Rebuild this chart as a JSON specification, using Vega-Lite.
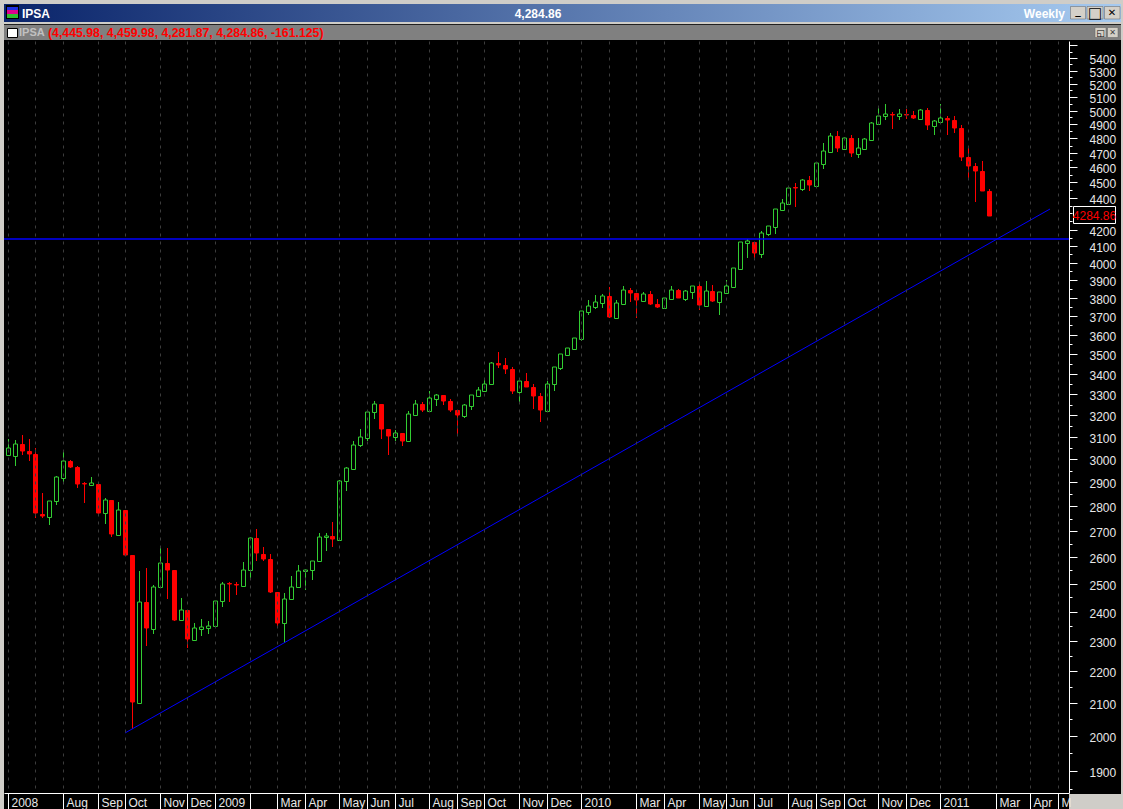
{"$schema":"https://vega.github.io/schema/vega-lite/v6.json","width":1065,"height":752,"autosize":{"type":"none"},"padding":{"left":4,"top":41,"right":54,"bottom":16},"background":"#cfcdc8","config":{"view":{"fill":"#000000","stroke":null}},
"datasets":{"candles":[
{"date":"2008-06-06","open":3019,"high":3091,"low":3012,"close":3050,"dir":"up"},
{"date":"2008-06-13","open":3016,"high":3086,"low":2972,"close":3067,"dir":"up"},
{"date":"2008-06-20","open":3068,"high":3109,"low":3019,"close":3035,"dir":"down"},
{"date":"2008-06-27","open":3037,"high":3091,"low":2993,"close":3023,"dir":"down"},
{"date":"2008-07-04","open":3024,"high":3049,"low":2752,"close":2771,"dir":"down"},
{"date":"2008-07-11","open":2770,"high":2855,"low":2754,"close":2761,"dir":"down"},
{"date":"2008-07-18","open":2758,"high":2821,"low":2725,"close":2821,"dir":"up"},
{"date":"2008-07-25","open":2820,"high":2928,"low":2806,"close":2923,"dir":"up"},
{"date":"2008-08-01","open":2920,"high":3031,"low":2893,"close":2991,"dir":"up"},
{"date":"2008-08-08","open":2991,"high":2997,"low":2962,"close":2967,"dir":"down"},
{"date":"2008-08-15","open":2967,"high":2971,"low":2877,"close":2893,"dir":"down"},
{"date":"2008-08-22","open":2899,"high":2903,"low":2814,"close":2895,"dir":"down"},
{"date":"2008-08-29","open":2889,"high":2923,"low":2885,"close":2897,"dir":"up"},
{"date":"2008-09-05","open":2893,"high":2893,"low":2761,"close":2772,"dir":"down"},
{"date":"2008-09-12","open":2771,"high":2834,"low":2729,"close":2825,"dir":"up"},
{"date":"2008-09-19","open":2827,"high":2827,"low":2678,"close":2689,"dir":"down"},
{"date":"2008-09-26","open":2686,"high":2818,"low":2686,"close":2784,"dir":"up"},
{"date":"2008-10-03","open":2785,"high":2785,"low":2606,"close":2608,"dir":"down"},
{"date":"2008-10-10","open":2606,"high":2606,"low":2021,"close":2102,"dir":"down"},
{"date":"2008-10-17","open":2100,"high":2548,"low":2100,"close":2433,"dir":"up"},
{"date":"2008-10-24","open":2434,"high":2559,"low":2282,"close":2343,"dir":"down"},
{"date":"2008-10-31","open":2340,"high":2496,"low":2323,"close":2487,"dir":"up"},
{"date":"2008-11-07","open":2486,"high":2643,"low":2486,"close":2576,"dir":"up"},
{"date":"2008-11-14","open":2576,"high":2635,"low":2445,"close":2551,"dir":"down"},
{"date":"2008-11-21","open":2551,"high":2551,"low":2367,"close":2371,"dir":"down"},
{"date":"2008-11-28","open":2369,"high":2448,"low":2369,"close":2405,"dir":"up"},
{"date":"2008-12-05","open":2406,"high":2406,"low":2275,"close":2305,"dir":"down"},
{"date":"2008-12-12","open":2303,"high":2360,"low":2299,"close":2342,"dir":"up"},
{"date":"2008-12-19","open":2340,"high":2374,"low":2316,"close":2347,"dir":"up"},
{"date":"2008-12-26","open":2343,"high":2367,"low":2323,"close":2350,"dir":"up"},
{"date":"2009-01-02","open":2348,"high":2438,"low":2347,"close":2437,"dir":"up"},
{"date":"2009-01-09","open":2436,"high":2507,"low":2417,"close":2498,"dir":"up"},
{"date":"2009-01-16","open":2504,"high":2507,"low":2434,"close":2500,"dir":"down"},
{"date":"2009-01-23","open":2500,"high":2507,"low":2460,"close":2496,"dir":"down"},
{"date":"2009-01-30","open":2493,"high":2581,"low":2493,"close":2550,"dir":"up"},
{"date":"2009-02-06","open":2549,"high":2676,"low":2520,"close":2672,"dir":"up"},
{"date":"2009-02-13","open":2672,"high":2709,"low":2585,"close":2613,"dir":"down"},
{"date":"2009-02-20","open":2612,"high":2639,"low":2585,"close":2593,"dir":"down"},
{"date":"2009-02-27","open":2593,"high":2612,"low":2467,"close":2470,"dir":"down"},
{"date":"2009-03-06","open":2470,"high":2470,"low":2349,"close":2361,"dir":"down"},
{"date":"2009-03-13","open":2360,"high":2466,"low":2291,"close":2444,"dir":"up"},
{"date":"2009-03-20","open":2443,"high":2529,"low":2443,"close":2487,"dir":"up"},
{"date":"2009-03-27","open":2487,"high":2569,"low":2485,"close":2546,"dir":"up"},
{"date":"2009-04-03","open":2545,"high":2556,"low":2478,"close":2551,"dir":"up"},
{"date":"2009-04-10","open":2549,"high":2586,"low":2514,"close":2584,"dir":"up"},
{"date":"2009-04-17","open":2584,"high":2692,"low":2582,"close":2676,"dir":"up"},
{"date":"2009-04-24","open":2675,"high":2692,"low":2623,"close":2681,"dir":"up"},
{"date":"2009-05-01","open":2681,"high":2737,"low":2636,"close":2670,"dir":"down"},
{"date":"2009-05-08","open":2667,"high":2909,"low":2667,"close":2905,"dir":"up"},
{"date":"2009-05-15","open":2905,"high":2964,"low":2864,"close":2961,"dir":"up"},
{"date":"2009-05-22","open":2959,"high":3081,"low":2958,"close":3062,"dir":"up"},
{"date":"2009-05-29","open":3061,"high":3137,"low":3052,"close":3098,"dir":"up"},
{"date":"2009-06-05","open":3096,"high":3215,"low":3083,"close":3214,"dir":"up"},
{"date":"2009-06-12","open":3214,"high":3267,"low":3182,"close":3252,"dir":"up"},
{"date":"2009-06-19","open":3253,"high":3253,"low":3091,"close":3137,"dir":"down"},
{"date":"2009-06-26","open":3137,"high":3137,"low":3019,"close":3104,"dir":"down"},
{"date":"2009-07-03","open":3101,"high":3132,"low":3079,"close":3117,"dir":"up"},
{"date":"2009-07-10","open":3118,"high":3118,"low":3060,"close":3082,"dir":"down"},
{"date":"2009-07-17","open":3079,"high":3220,"low":3079,"close":3204,"dir":"up"},
{"date":"2009-07-24","open":3202,"high":3270,"low":3202,"close":3252,"dir":"up"},
{"date":"2009-07-31","open":3253,"high":3261,"low":3215,"close":3226,"dir":"down"},
{"date":"2009-08-07","open":3221,"high":3316,"low":3221,"close":3280,"dir":"up"},
{"date":"2009-08-14","open":3279,"high":3301,"low":3244,"close":3295,"dir":"up"},
{"date":"2009-08-21","open":3296,"high":3296,"low":3248,"close":3268,"dir":"down"},
{"date":"2009-08-28","open":3268,"high":3276,"low":3215,"close":3226,"dir":"down"},
{"date":"2009-09-04","open":3226,"high":3226,"low":3112,"close":3201,"dir":"down"},
{"date":"2009-09-11","open":3196,"high":3252,"low":3188,"close":3248,"dir":"up"},
{"date":"2009-09-18","open":3245,"high":3296,"low":3225,"close":3296,"dir":"up"},
{"date":"2009-09-25","open":3293,"high":3335,"low":3287,"close":3319,"dir":"up"},
{"date":"2009-10-02","open":3317,"high":3379,"low":3316,"close":3349,"dir":"up"},
{"date":"2009-10-09","open":3347,"high":3458,"low":3347,"close":3453,"dir":"up"},
{"date":"2009-10-16","open":3455,"high":3510,"low":3429,"close":3445,"dir":"down"},
{"date":"2009-10-23","open":3445,"high":3480,"low":3399,"close":3424,"dir":"down"},
{"date":"2009-10-30","open":3424,"high":3433,"low":3302,"close":3316,"dir":"down"},
{"date":"2009-11-06","open":3312,"high":3363,"low":3253,"close":3363,"dir":"up"},
{"date":"2009-11-13","open":3365,"high":3404,"low":3335,"close":3335,"dir":"down"},
{"date":"2009-11-20","open":3335,"high":3350,"low":3229,"close":3292,"dir":"down"},
{"date":"2009-11-27","open":3291,"high":3306,"low":3168,"close":3225,"dir":"down"},
{"date":"2009-12-04","open":3221,"high":3365,"low":3221,"close":3349,"dir":"up"},
{"date":"2009-12-11","open":3347,"high":3433,"low":3316,"close":3433,"dir":"up"},
{"date":"2009-12-18","open":3431,"high":3500,"low":3419,"close":3498,"dir":"up"},
{"date":"2009-12-25","open":3496,"high":3531,"low":3491,"close":3529,"dir":"up"},
{"date":"2010-01-01","open":3527,"high":3581,"low":3527,"close":3581,"dir":"up"},
{"date":"2010-01-08","open":3579,"high":3727,"low":3569,"close":3726,"dir":"up"},
{"date":"2010-01-15","open":3724,"high":3786,"low":3707,"close":3753,"dir":"up"},
{"date":"2010-01-22","open":3752,"high":3816,"low":3737,"close":3775,"dir":"up"},
{"date":"2010-01-29","open":3773,"high":3821,"low":3744,"close":3808,"dir":"up"},
{"date":"2010-02-05","open":3810,"high":3859,"low":3691,"close":3696,"dir":"down"},
{"date":"2010-02-12","open":3691,"high":3788,"low":3691,"close":3770,"dir":"up"},
{"date":"2010-02-19","open":3768,"high":3866,"low":3768,"close":3842,"dir":"up"},
{"date":"2010-02-26","open":3844,"high":3855,"low":3776,"close":3827,"dir":"down"},
{"date":"2010-03-05","open":3827,"high":3827,"low":3691,"close":3788,"dir":"down"},
{"date":"2010-03-12","open":3782,"high":3831,"low":3782,"close":3820,"dir":"up"},
{"date":"2010-03-19","open":3821,"high":3837,"low":3760,"close":3768,"dir":"down"},
{"date":"2010-03-26","open":3766,"high":3793,"low":3744,"close":3750,"dir":"down"},
{"date":"2010-04-02","open":3746,"high":3798,"low":3744,"close":3798,"dir":"up"},
{"date":"2010-04-09","open":3795,"high":3865,"low":3793,"close":3842,"dir":"up"},
{"date":"2010-04-16","open":3844,"high":3848,"low":3799,"close":3799,"dir":"down"},
{"date":"2010-04-23","open":3793,"high":3842,"low":3782,"close":3836,"dir":"up"},
{"date":"2010-04-30","open":3834,"high":3866,"low":3793,"close":3865,"dir":"up"},
{"date":"2010-05-07","open":3866,"high":3882,"low":3733,"close":3760,"dir":"down"},
{"date":"2010-05-14","open":3757,"high":3895,"low":3755,"close":3836,"dir":"up"},
{"date":"2010-05-21","open":3836,"high":3872,"low":3776,"close":3782,"dir":"down"},
{"date":"2010-05-28","open":3778,"high":3831,"low":3705,"close":3831,"dir":"up"},
{"date":"2010-06-04","open":3829,"high":3900,"low":3829,"close":3865,"dir":"up"},
{"date":"2010-06-11","open":3863,"high":3970,"low":3855,"close":3968,"dir":"up"},
{"date":"2010-06-18","open":3966,"high":4122,"low":3960,"close":4122,"dir":"up"},
{"date":"2010-06-25","open":4118,"high":4142,"low":4028,"close":4130,"dir":"up"},
{"date":"2010-07-02","open":4124,"high":4124,"low":4021,"close":4058,"dir":"down"},
{"date":"2010-07-09","open":4054,"high":4189,"low":4028,"close":4176,"dir":"up"},
{"date":"2010-07-16","open":4175,"high":4220,"low":4161,"close":4220,"dir":"up"},
{"date":"2010-07-23","open":4218,"high":4327,"low":4173,"close":4327,"dir":"up"},
{"date":"2010-07-30","open":4324,"high":4392,"low":4320,"close":4365,"dir":"up"},
{"date":"2010-08-06","open":4362,"high":4462,"low":4360,"close":4462,"dir":"up"},
{"date":"2010-08-13","open":4472,"high":4496,"low":4341,"close":4464,"dir":"down"},
{"date":"2010-08-20","open":4459,"high":4521,"low":4444,"close":4514,"dir":"up"},
{"date":"2010-08-27","open":4516,"high":4543,"low":4444,"close":4483,"dir":"down"},
{"date":"2010-09-03","open":4479,"high":4635,"low":4477,"close":4628,"dir":"up"},
{"date":"2010-09-10","open":4625,"high":4768,"low":4589,"close":4710,"dir":"up"},
{"date":"2010-09-17","open":4707,"high":4836,"low":4703,"close":4815,"dir":"up"},
{"date":"2010-09-24","open":4817,"high":4852,"low":4705,"close":4735,"dir":"down"},
{"date":"2010-10-01","open":4728,"high":4808,"low":4725,"close":4801,"dir":"up"},
{"date":"2010-10-08","open":4803,"high":4824,"low":4671,"close":4698,"dir":"down"},
{"date":"2010-10-15","open":4693,"high":4803,"low":4664,"close":4731,"dir":"up"},
{"date":"2010-10-22","open":4728,"high":4803,"low":4725,"close":4794,"dir":"up"},
{"date":"2010-10-29","open":4791,"high":4916,"low":4788,"close":4909,"dir":"up"},
{"date":"2010-11-05","open":4904,"high":5026,"low":4902,"close":4960,"dir":"up"},
{"date":"2010-11-12","open":4957,"high":5048,"low":4931,"close":4972,"dir":"up"},
{"date":"2010-11-19","open":4977,"high":4989,"low":4867,"close":4967,"dir":"down"},
{"date":"2010-11-26","open":4960,"high":5011,"low":4931,"close":4972,"dir":"up"},
{"date":"2010-12-03","open":4977,"high":5011,"low":4938,"close":4967,"dir":"down"},
{"date":"2010-12-10","open":4967,"high":4994,"low":4941,"close":4945,"dir":"down"},
{"date":"2010-12-17","open":4941,"high":5011,"low":4938,"close":5004,"dir":"up"},
{"date":"2010-12-24","open":5004,"high":5019,"low":4862,"close":4895,"dir":"down"},
{"date":"2010-12-31","open":4890,"high":4931,"low":4825,"close":4924,"dir":"up"},
{"date":"2011-01-07","open":4918,"high":5048,"low":4916,"close":4943,"dir":"up"},
{"date":"2011-01-14","open":4945,"high":4960,"low":4825,"close":4931,"dir":"down"},
{"date":"2011-01-21","open":4931,"high":4960,"low":4840,"close":4874,"dir":"down"},
{"date":"2011-01-28","open":4874,"high":4895,"low":4643,"close":4670,"dir":"down"},
{"date":"2011-02-04","open":4670,"high":4740,"low":4528,"close":4610,"dir":"down"},
{"date":"2011-02-11","open":4610,"high":4629,"low":4373,"close":4576,"dir":"down"},
{"date":"2011-02-18","open":4576,"high":4643,"low":4444,"close":4445.98,"dir":"down"},
{"date":"2011-02-25","open":4445.98,"high":4459.98,"low":4281.87,"close":4284.86,"dir":"down"}
],
"trend":[{"date":"2008-10-03","price":2010},{"date":"2011-04-28","price":4329}],
"level":[{"date":"2008-06-02T03:36:00Z","price":4145},{"date":"2011-05-17T07:00:00Z","price":4145}]},
"layer":[
{"data":{"values":[{}]},"layer":[
{"mark":{"type":"rect","fill":{"gradient":"linear","x1":0,"y1":0,"x2":1,"y2":0,"stops":[{"offset":0,"color":"#0A246A"},{"offset":1,"color":"#A6CAF0"}]}},"encoding":{"x":{"datum":4,"type":"quantitative","scale":{"domain":[4,1069]},"axis":null},"x2":{"datum":1121},"y":{"datum":4,"type":"quantitative","scale":{"domain":[41,793],"reverse":true},"axis":null},"y2":{"datum":22}}},
{"mark":{"type":"rect","fill":"#202020"},"encoding":{"x":{"datum":4,"type":"quantitative","scale":{"domain":[4,1069]},"axis":null},"x2":{"datum":1121},"y":{"datum":24,"type":"quantitative","scale":{"domain":[41,793],"reverse":true},"axis":null},"y2":{"datum":25}}},
{"mark":{"type":"rect","fill":"#808080"},"encoding":{"x":{"datum":4,"type":"quantitative","scale":{"domain":[4,1069]},"axis":null},"x2":{"datum":1121},"y":{"datum":25,"type":"quantitative","scale":{"domain":[41,793],"reverse":true},"axis":null},"y2":{"datum":40}}},
{"mark":{"type":"rect","fill":"#000000"},"encoding":{"x":{"datum":4,"type":"quantitative","scale":{"domain":[4,1069]},"axis":null},"x2":{"datum":1121},"y":{"datum":40,"type":"quantitative","scale":{"domain":[41,793],"reverse":true},"axis":null},"y2":{"datum":794}}},
{"mark":{"type":"rect","fill":"#000000"},"encoding":{"x":{"datum":4,"type":"quantitative","scale":{"domain":[4,1069]},"axis":null},"x2":{"datum":1069},"y":{"datum":794,"type":"quantitative","scale":{"domain":[41,793],"reverse":true},"axis":null},"y2":{"datum":809}}},
{"mark":{"type":"rect","fill":"#000000","stroke":"#ffffff","strokeWidth":1},"encoding":{"x":{"datum":1073.5,"type":"quantitative","scale":{"domain":[4,1069]},"axis":null},"x2":{"datum":1115.5},"y":{"datum":206.5,"type":"quantitative","scale":{"domain":[41,793],"reverse":true},"axis":null},"y2":{"datum":223.5}}},
{"mark":{"type":"text","text":"4284.86","color":"#ff0000","font":"Liberation Sans","fontSize":12,"align":"center","baseline":"middle"},"encoding":{"x":{"datum":1094.5,"type":"quantitative","scale":{"domain":[4,1069]},"axis":null},"y":{"datum":215.5,"type":"quantitative","scale":{"domain":[41,793],"reverse":true},"axis":null}}},
{"mark":{"type":"rect","fill":"#000000"},"encoding":{"x":{"datum":6,"type":"quantitative","scale":{"domain":[4,1069]},"axis":null},"x2":{"datum":19},"y":{"datum":5,"type":"quantitative","scale":{"domain":[41,793],"reverse":true},"axis":null},"y2":{"datum":19}}},
{"mark":{"type":"rect","fill":"#2030e0"},"encoding":{"x":{"datum":7,"type":"quantitative","scale":{"domain":[4,1069]},"axis":null},"x2":{"datum":18},"y":{"datum":7,"type":"quantitative","scale":{"domain":[41,793],"reverse":true},"axis":null},"y2":{"datum":10}}},
{"mark":{"type":"rect","fill":"#e00090"},"encoding":{"x":{"datum":7,"type":"quantitative","scale":{"domain":[4,1069]},"axis":null},"x2":{"datum":18},"y":{"datum":10,"type":"quantitative","scale":{"domain":[41,793],"reverse":true},"axis":null},"y2":{"datum":14}}},
{"mark":{"type":"rect","fill":"#30c030"},"encoding":{"x":{"datum":7,"type":"quantitative","scale":{"domain":[4,1069]},"axis":null},"x2":{"datum":18},"y":{"datum":14,"type":"quantitative","scale":{"domain":[41,793],"reverse":true},"axis":null},"y2":{"datum":18}}},
{"mark":{"type":"rect","fill":"#ffffff","stroke":"#000000"},"encoding":{"x":{"datum":7.5,"type":"quantitative","scale":{"domain":[4,1069]},"axis":null},"x2":{"datum":17.5},"y":{"datum":28.5,"type":"quantitative","scale":{"domain":[41,793],"reverse":true},"axis":null},"y2":{"datum":37.5}}},
{"mark":{"type":"text","text":"IPSA","color":"#ffffff","font":"Liberation Sans","fontWeight":"bold","fontSize":12,"align":"left","baseline":"middle"},"encoding":{"x":{"datum":22,"type":"quantitative","scale":{"domain":[4,1069]},"axis":null},"y":{"datum":13.5,"type":"quantitative","scale":{"domain":[41,793],"reverse":true},"axis":null}}},
{"mark":{"type":"text","text":"4,284.86","color":"#ffffff","font":"Liberation Sans","fontWeight":"bold","fontSize":12,"align":"center","baseline":"middle"},"encoding":{"x":{"datum":538,"type":"quantitative","scale":{"domain":[4,1069]},"axis":null},"y":{"datum":13.5,"type":"quantitative","scale":{"domain":[41,793],"reverse":true},"axis":null}}},
{"mark":{"type":"text","text":"Weekly","color":"#ffffff","font":"Liberation Sans","fontWeight":"bold","fontSize":12,"align":"right","baseline":"middle"},"encoding":{"x":{"datum":1065,"type":"quantitative","scale":{"domain":[4,1069]},"axis":null},"y":{"datum":13.5,"type":"quantitative","scale":{"domain":[41,793],"reverse":true},"axis":null}}},
{"mark":{"type":"text","text":"IPSA","color":"#c0c0c0","font":"Liberation Sans","fontWeight":"bold","fontSize":11,"align":"left","baseline":"middle"},"encoding":{"x":{"datum":19,"type":"quantitative","scale":{"domain":[4,1069]},"axis":null},"y":{"datum":33,"type":"quantitative","scale":{"domain":[41,793],"reverse":true},"axis":null}}},
{"mark":{"type":"text","text":"(4,445.98, 4,459.98, 4,281.87, 4,284.86, -161.125)","color":"#ff0000","font":"Liberation Sans","fontWeight":"bold","fontSize":12.3,"align":"left","baseline":"middle"},"encoding":{"x":{"datum":48,"type":"quantitative","scale":{"domain":[4,1069]},"axis":null},"y":{"datum":33,"type":"quantitative","scale":{"domain":[41,793],"reverse":true},"axis":null}}},
{"mark":{"type":"rect","fill":"#d4d0c8","stroke":"#606060","strokeWidth":0.5},"encoding":{"x":{"datum":1070.5,"type":"quantitative","scale":{"domain":[4,1069]},"axis":null},"x2":{"datum":1085.5},"y":{"datum":6.5,"type":"quantitative","scale":{"domain":[41,793],"reverse":true},"axis":null},"y2":{"datum":19}}},
{"mark":{"type":"rect","fill":"#d4d0c8","stroke":"#606060","strokeWidth":0.5},"encoding":{"x":{"datum":1087,"type":"quantitative","scale":{"domain":[4,1069]},"axis":null},"x2":{"datum":1103},"y":{"datum":6.5,"type":"quantitative","scale":{"domain":[41,793],"reverse":true},"axis":null},"y2":{"datum":19}}},
{"mark":{"type":"rect","fill":"#d4d0c8","stroke":"#606060","strokeWidth":0.5},"encoding":{"x":{"datum":1104.5,"type":"quantitative","scale":{"domain":[4,1069]},"axis":null},"x2":{"datum":1120},"y":{"datum":6.5,"type":"quantitative","scale":{"domain":[41,793],"reverse":true},"axis":null},"y2":{"datum":19}}},
{"mark":{"type":"rect","fill":"#d4d0c8","stroke":"#606060","strokeWidth":0.5},"encoding":{"x":{"datum":1095,"type":"quantitative","scale":{"domain":[4,1069]},"axis":null},"x2":{"datum":1106},"y":{"datum":27.5,"type":"quantitative","scale":{"domain":[41,793],"reverse":true},"axis":null},"y2":{"datum":37.5}}},
{"mark":{"type":"rect","fill":"#d4d0c8","stroke":"#606060","strokeWidth":0.5},"encoding":{"x":{"datum":1107.5,"type":"quantitative","scale":{"domain":[4,1069]},"axis":null},"x2":{"datum":1118},"y":{"datum":27.5,"type":"quantitative","scale":{"domain":[41,793],"reverse":true},"axis":null},"y2":{"datum":37.5}}},
{"mark":{"type":"text","text":"_","color":"#000000","font":"DejaVu Sans","fontWeight":"bold","fontSize":11,"align":"center","baseline":"middle"},"encoding":{"x":{"datum":1078,"type":"quantitative","scale":{"domain":[4,1069]},"axis":null},"y":{"datum":11,"type":"quantitative","scale":{"domain":[41,793],"reverse":true},"axis":null}}},
{"mark":{"type":"text","text":"□","color":"#000000","font":"DejaVu Sans","fontWeight":"bold","fontSize":15,"align":"center","baseline":"middle"},"encoding":{"x":{"datum":1095,"type":"quantitative","scale":{"domain":[4,1069]},"axis":null},"y":{"datum":12.5,"type":"quantitative","scale":{"domain":[41,793],"reverse":true},"axis":null}}},
{"mark":{"type":"text","text":"✕","color":"#000000","font":"DejaVu Sans","fontWeight":"bold","fontSize":10,"align":"center","baseline":"middle"},"encoding":{"x":{"datum":1112,"type":"quantitative","scale":{"domain":[4,1069]},"axis":null},"y":{"datum":13,"type":"quantitative","scale":{"domain":[41,793],"reverse":true},"axis":null}}},
{"mark":{"type":"text","text":"◱","color":"#000000","font":"DejaVu Sans","fontSize":9,"align":"center","baseline":"middle"},"encoding":{"x":{"datum":1100.5,"type":"quantitative","scale":{"domain":[4,1069]},"axis":null},"y":{"datum":32.5,"type":"quantitative","scale":{"domain":[41,793],"reverse":true},"axis":null}}},
{"mark":{"type":"text","text":"✕","color":"#404040","font":"DejaVu Sans","fontSize":8,"align":"center","baseline":"middle"},"encoding":{"x":{"datum":1112.5,"type":"quantitative","scale":{"domain":[4,1069]},"axis":null},"y":{"datum":32.5,"type":"quantitative","scale":{"domain":[41,793],"reverse":true},"axis":null}}}
]},
{"data":{"name":"candles"},
"encoding":{"x":{"field":"date","type":"temporal","scale":{"type":"utc","domain":["2008-06-02T03:36:00Z","2011-05-17T07:00:00Z"],"round":true,"padding":0,"nice":false},"axis":{"title":null,"zindex":1,"orient":"bottom","domainColor":"#ffffff","tickColor":"#ffffff","tickSize":{"condition":{"test":"(utcmonth(datum.value)==1 && utcyear(datum.value)!=2009) || (utcmonth(datum.value)==6 && utcyear(datum.value)==2008)","value":0},"value":16},"labelColor":"#e8e8e8","labelFont":"Liberation Sans","labelFontSize":12,"labelAlign":"left","labelBaseline":"middle","labelPadding":-7,"labelOffset":3,"labelOverlap":false,"labelBound":false,"labelFlush":false,"grid":true,"gridColor":"#3c3c3c","gridDash":[3,5],"gridWidth":1,"values":[{"year":2008,"month":6,"date":6,"utc":true},{"year":2008,"month":7,"date":4,"utc":true},{"year":2008,"month":8,"date":1,"utc":true},{"year":2008,"month":9,"date":5,"utc":true},{"year":2008,"month":10,"date":3,"utc":true},{"year":2008,"month":11,"date":7,"utc":true},{"year":2008,"month":12,"date":5,"utc":true},{"year":2009,"month":1,"date":2,"utc":true},{"year":2009,"month":2,"date":6,"utc":true},{"year":2009,"month":3,"date":6,"utc":true},{"year":2009,"month":4,"date":3,"utc":true},{"year":2009,"month":5,"date":8,"utc":true},{"year":2009,"month":6,"date":5,"utc":true},{"year":2009,"month":7,"date":3,"utc":true},{"year":2009,"month":8,"date":7,"utc":true},{"year":2009,"month":9,"date":4,"utc":true},{"year":2009,"month":10,"date":2,"utc":true},{"year":2009,"month":11,"date":6,"utc":true},{"year":2009,"month":12,"date":4,"utc":true},{"year":2010,"month":1,"date":8,"utc":true},{"year":2010,"month":2,"date":5,"utc":true},{"year":2010,"month":3,"date":5,"utc":true},{"year":2010,"month":4,"date":2,"utc":true},{"year":2010,"month":5,"date":7,"utc":true},{"year":2010,"month":6,"date":4,"utc":true},{"year":2010,"month":7,"date":2,"utc":true},{"year":2010,"month":8,"date":6,"utc":true},{"year":2010,"month":9,"date":3,"utc":true},{"year":2010,"month":10,"date":1,"utc":true},{"year":2010,"month":11,"date":5,"utc":true},{"year":2010,"month":12,"date":3,"utc":true},{"year":2011,"month":1,"date":7,"utc":true},{"year":2011,"month":2,"date":4,"utc":true},{"year":2011,"month":3,"date":4,"utc":true},{"year":2011,"month":4,"date":8,"utc":true},{"year":2011,"month":5,"date":6,"utc":true}],"labelExpr":"utcyear(datum.value)==2008 && utcmonth(datum.value)==5 ? '2008' : utcyear(datum.value)==2008 && utcmonth(datum.value)==6 ? '' : utcmonth(datum.value)==1 ? '' : utcmonth(datum.value)==0 ? utcFormat(datum.value,'%Y') : utcyear(datum.value)==2011 && utcmonth(datum.value)==4 ? 'M' : utcFormat(datum.value,'%b')"}}},
"layer":[
{"mark":{"type":"rule","xOffset":0.5,"strokeWidth":1},"encoding":{"y":{"field":"low","type":"quantitative","scale":{"type":"log","domain":[1839.7,5536],"nice":false,"round":true},"axis":{"title":null,"orient":"right","zindex":1,"grid":false,"domainColor":"#ffffff","tickColor":"#ffffff","tickSize":{"condition":[{"test":"datum.value == 4300","value":3},{"test":"datum.value % 100 == 0","value":8}],"value":3},"labelColor":"#e8e8e8","labelFont":"Liberation Sans","labelFontSize":12,"labelPadding":12,"labelOffset":1.5,"labelOverlap":false,"labelBound":false,"labelFlush":false,"values":[1850,1900,1950,2000,2050,2100,2150,2200,2250,2300,2350,2400,2450,2500,2550,2600,2650,2700,2750,2800,2850,2900,2950,3000,3050,3100,3150,3200,3250,3300,3350,3400,3450,3500,3550,3600,3650,3700,3750,3800,3850,3900,3950,4000,4050,4100,4150,4200,4250,4300,4350,4400,4450,4500,4550,4600,4650,4700,4750,4800,4850,4900,4950,5000,5050,5100,5150,5200,5250,5300,5350,5400,5450,5500],"labelExpr":"datum.value % 100 == 0 && datum.value <= 5400 && datum.value != 4300 ? format(datum.value,'d') : ''"}},"y2":{"field":"high"},"color":{"field":"dir","type":"nominal","scale":{"domain":["up","down"],"range":["#32cd32","#ff0000"]},"legend":null}}},
{"transform":[{"filter":"datum.dir == 'up'"}],"mark":{"type":"bar","size":4,"xOffset":0.5,"yOffset":0.5,"fill":"#000000","stroke":"#32cd32","strokeWidth":1},"encoding":{"y":{"field":"open","type":"quantitative"},"y2":{"field":"close"}}},
{"transform":[{"filter":"datum.dir == 'down'"}],"mark":{"type":"bar","size":4,"xOffset":0.5,"yOffset":0.5,"fill":"#ff0000","stroke":"#ff0000","strokeWidth":1},"encoding":{"y":{"field":"open","type":"quantitative"},"y2":{"field":"close"}}},
{"transform":[{"filter":"datum.date == '2008-06-06'"}],"mark":{"type":"bar","size":4,"xOffset":0.5,"yOffset":0.5,"fill":"#32cd32","stroke":"#32cd32","strokeWidth":1},"encoding":{"y":{"field":"open","type":"quantitative"},"y2":{"field":"close"}}},
{"data":{"name":"trend"},"mark":{"type":"line","color":"#0000ff","strokeWidth":1},"encoding":{"x":{"field":"date","type":"temporal"},"y":{"field":"price","type":"quantitative"}}},
{"data":{"name":"level"},"mark":{"type":"line","color":"#0000ff","strokeWidth":1.5},"encoding":{"x":{"field":"date","type":"temporal"},"y":{"field":"price","type":"quantitative"}}}
]}
],
"resolve":{"scale":{"x":"independent","y":"independent"}}}
